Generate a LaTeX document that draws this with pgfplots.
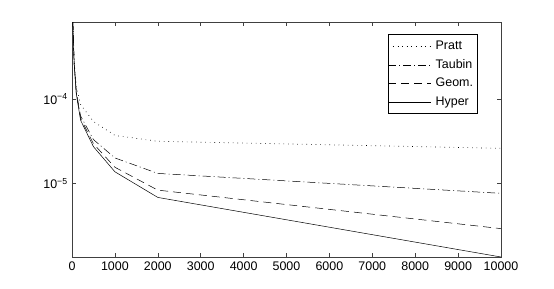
\documentclass[border=0pt]{standalone}
\usepackage{fontspec}
\setmainfont{Liberation Sans}
\usepackage{pgfplots}
\pgfplotsset{compat=1.18}
\begin{document}
\fontsize{12.5}{15}\selectfont
\begin{tikzpicture}
\useasboundingbox (0,0) rectangle (554bp,289bp);
\begin{axis}[
  at={(72bp,32bp)}, anchor=south west,
  scale only axis, width=429bp, height=235bp,
  ymode=log,
  xmin=0, xmax=10000,
  ymin=1.336e-6, ymax=8.19e-4,
  xtick={0,1000,...,10000},
  scaled x ticks=false,
  xticklabel style={/pgf/number format/.cd, 1000 sep={}, assume math mode=true},
  ytick={1e-4,1e-5},
  yticklabels={10\textsuperscript{−4},10\textsuperscript{−5}},
  tick align=inside,
  major tick length=4bp, minor tick length=2.5bp,
  axis line style={line width=0.5bp, black!75},
  every tick/.style={line width=0.5bp, black!75},
  legend style={at={(1,1)}, anchor=north east, xshift=-23.7bp, yshift=-12.3bp,
    draw=black, line width=0.5bp, font=\fontsize{12.5}{15}\selectfont,
    cells={anchor=west}, row sep=0bp, inner xsep=0bp, inner ysep=2.5bp,
    nodes={text height=9.4bp, text depth=2.8bp, inner ysep=3.15bp, inner xsep=4bp}},
  legend image code/.code={\draw[#1] (0bp,0bp) -- (43bp,0bp);},
]
\addplot[black, line width=0.7bp, dash pattern=on 0.6bp off 4bp] coordinates {
 (20,8.19e-4) (50,2.9e-4) (100,1.4e-4) (200,8.6e-5) (500,5.4e-5) (1000,3.7e-5) (2000,3.15e-5) (10000,2.6e-5)};
\addlegendentry{Pratt}
\addplot[black, line width=0.5bp, dash pattern=on 8bp off 3bp on 1bp off 3bp] coordinates {
 (20,8.19e-4) (50,2.7e-4) (100,1.22e-4) (200,6.3e-5) (500,3.3e-5) (1000,2.0e-5) (2000,1.31e-5) (10000,7.6e-6)};
\addlegendentry{Taubin}
\addplot[black, line width=0.5bp, dash pattern=on 8bp off 5bp] coordinates {
 (20,8.19e-4) (50,2.65e-4) (100,1.18e-4) (200,5.9e-5) (500,2.95e-5) (1000,1.55e-5) (2000,8.3e-6) (10000,2.9e-6)};
\addlegendentry{Geom.}
\addplot[black, line width=0.5bp] coordinates {
 (20,8.19e-4) (50,2.6e-4) (100,1.15e-4) (200,5.6e-5) (500,2.72e-5) (1000,1.37e-5) (2000,6.8e-6) (10000,1.336e-6)};
\addlegendentry{Hyper}
\end{axis}
\end{tikzpicture}
\end{document}
